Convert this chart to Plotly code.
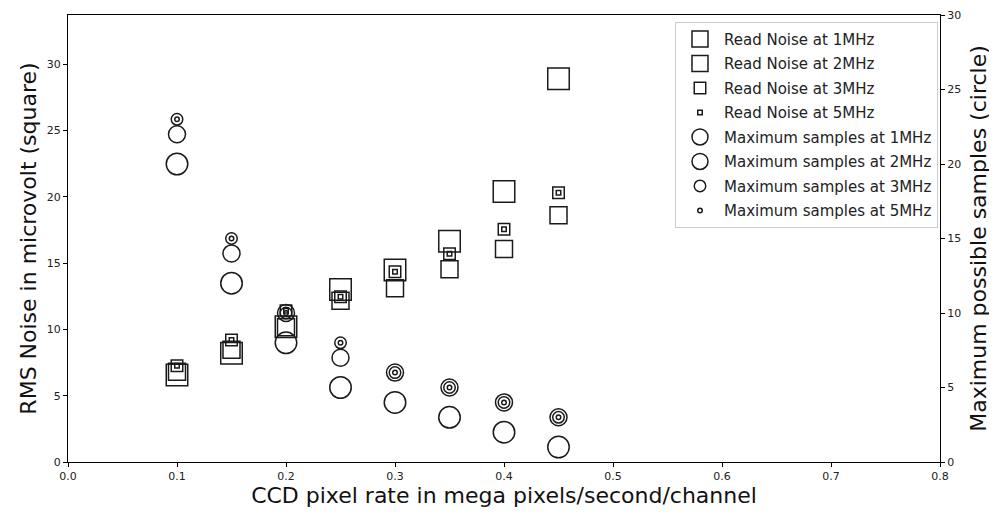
import plotly.graph_objects as go

pixel_rate = [0.10, 0.15, 0.20, 0.25, 0.30, 0.35, 0.40, 0.45]

noise_1mhz = [6.56, 8.2, 10.2, 13.0, 14.47, 16.65, 20.4, 28.9]
noise_2mhz = [6.8, 8.46, 10.15, 12.15, 13.1, 14.54, 16.05, 18.6]
noise_3mhz = [7.26, 9.2, 11.4, 12.46, 14.34, 15.7, 17.55, 20.3]
noise_5mhz = [7.26, 9.2, 11.4, 12.46, 14.34, 15.7, 17.55, 20.3]

samples_1mhz = [20, 12, 8, 5, 4, 3, 2, 1]
samples_2mhz = [22, 14, 10, 7, 6, 5, 4, 3]
samples_3mhz = [23, 15, 10, 8, 6, 5, 4, 3]
samples_5mhz = [23, 15, 10, 8, 6, 5, 4, 3]

noise_series = [
    ("Read Noise at 1MHz", noise_1mhz, 21.5),
    ("Read Noise at 2MHz", noise_2mhz, 17),
    ("Read Noise at 3MHz", noise_3mhz, 11.5),
    ("Read Noise at 5MHz", noise_5mhz, 4.5),
]
sample_series = [
    ("Maximum samples at 1MHz", samples_1mhz, 21.5),
    ("Maximum samples at 2MHz", samples_2mhz, 17),
    ("Maximum samples at 3MHz", samples_3mhz, 11.5),
    ("Maximum samples at 5MHz", samples_5mhz, 4.5),
]

FONT = "DejaVu Sans"
INK = "#1a1a1a"

fig = go.Figure()
for i, (name, vals, sz) in enumerate(noise_series):
    fig.add_trace(go.Scatter(
        x=pixel_rate, y=vals, mode="markers", name=name,
        legendgroup=f"g{i}",
        marker=dict(symbol="square-open", size=sz, color=INK,
                    line=dict(width=1.5, color=INK)),
        yaxis="y",
    ))
for i, (name, vals, sz) in enumerate(sample_series):
    fig.add_trace(go.Scatter(
        x=pixel_rate, y=vals, mode="markers", name=name,
        legendgroup=f"h{i}",
        marker=dict(symbol="circle-open", size=sz, color=INK,
                    line=dict(width=1.5, color=INK)),
        yaxis="y2",
    ))

axis_common = dict(
    showgrid=False, zeroline=False, showline=True, linecolor="#000",
    linewidth=1, ticks="outside", ticklen=4, tickwidth=1, tickcolor="#000",
    tickfont=dict(family=FONT, size=11, color="#222"), automargin=False,
    ticklabeloverflow="allow",
)

fig.update_layout(
    width=989, height=509,
    margin=dict(l=60, r=57, t=7, b=55, autoexpand=False),
    paper_bgcolor="white", plot_bgcolor="white",
    font=dict(family=FONT, color=INK),
    xaxis=dict(
        range=[0, 0.8], tickvals=[0, 0.1, 0.2, 0.3, 0.4, 0.5, 0.6, 0.7, 0.8],
        tickformat=".1f", mirror=True,
        title=dict(text="CCD pixel rate in mega pixels/second/channel",
                   font=dict(family=FONT, size=22, color="#111"), standoff=2),
        **axis_common,
    ),
    yaxis=dict(
        range=[0, 33.7], tickvals=[0, 5, 10, 15, 20, 25, 30],
        title=dict(text="RMS Noise in microvolt (square)",
                   font=dict(family=FONT, size=22, color="#111"), standoff=4),
        **axis_common,
    ),
    yaxis2=dict(
        range=[0, 30], tickvals=[0, 5, 10, 15, 20, 25, 30],
        overlaying="y", side="right",
        title=dict(text="Maximum possible samples (circle)",
                   font=dict(family=FONT, size=22, color="#111"), standoff=10),
        **axis_common,
    ),
    legend=dict(
        x=0.9977, y=0.985, xanchor="right", yanchor="top",
        bgcolor="rgba(255,255,255,0.85)", bordercolor="#cccccc", borderwidth=1,
        font=dict(family=FONT, size=15, color="#222"),
        itemsizing="trace", traceorder="grouped", tracegroupgap=2,
        itemwidth=38,
    ),
    showlegend=True,
)

fig.write_html("out.html")
